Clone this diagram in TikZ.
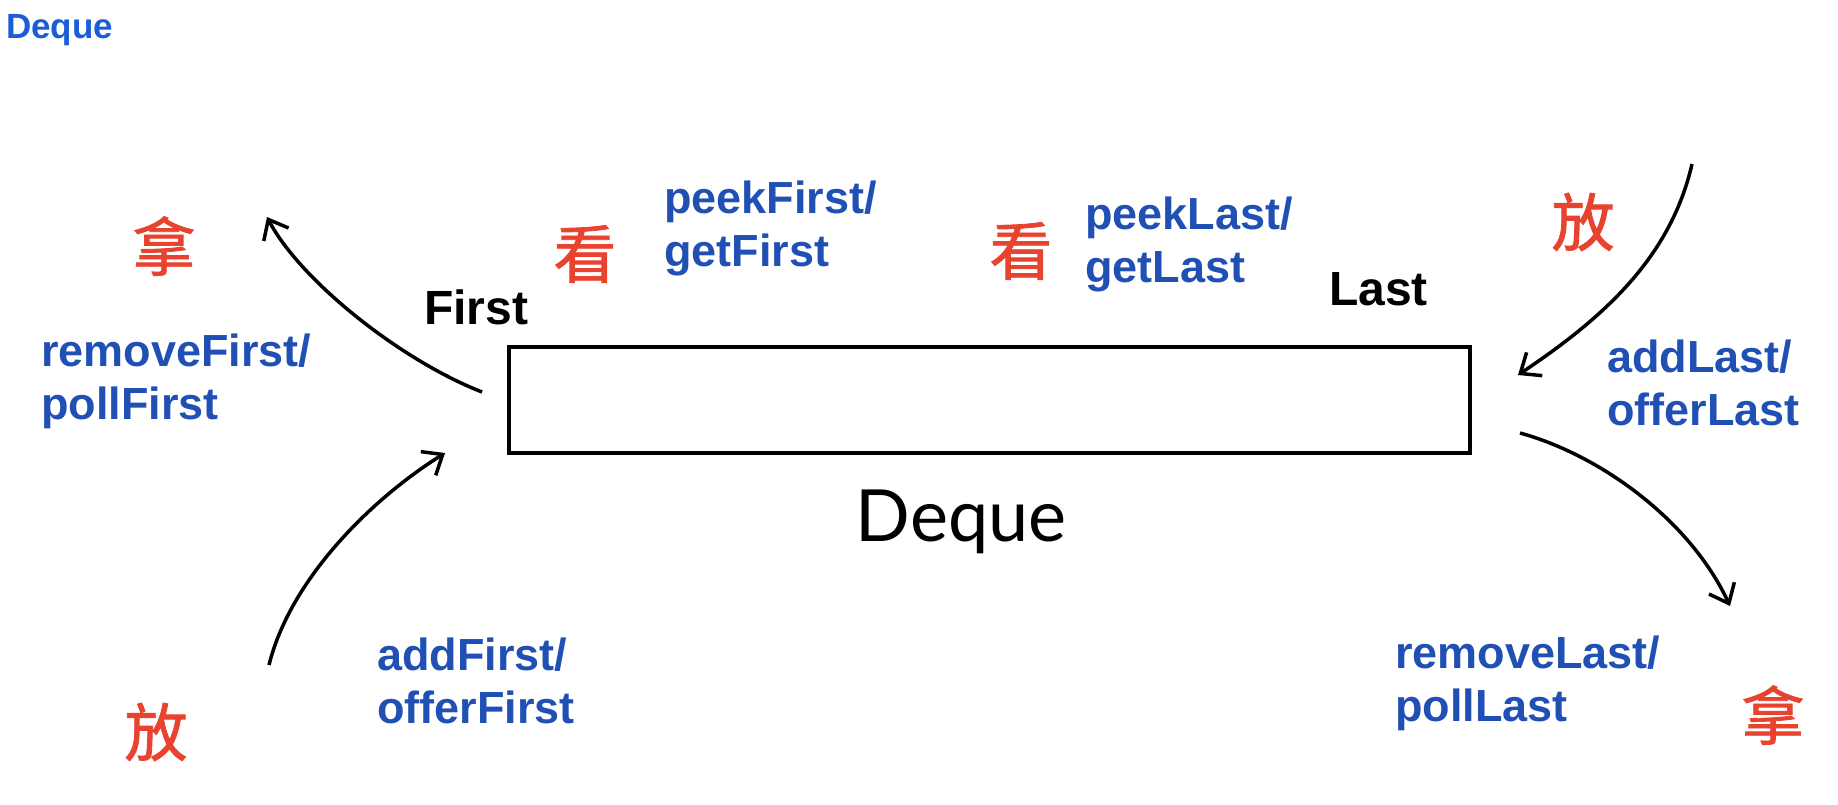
\documentclass[tikz,border=0pt]{standalone}
\usepackage{fontspec}
\setmainfont{Liberation Sans}
\newfontface\cjkm[FakeBold=1.3]{Noto Sans CJK SC}
\newfontfamily\hand{Lato}
\usetikzlibrary{arrows.meta}
\definecolor{lblblue}{HTML}{2150B5}
\definecolor{ttlblue}{HTML}{1A5DD6}
\definecolor{hanred}{HTML}{E8432F}
\tikzset{
  lbl/.style={anchor=north west, inner sep=0pt, align=left, text=lblblue,
    font=\fontsize{45}{53}\selectfont\bfseries},
  han/.style={inner sep=0pt, text=hanred, font=\cjkm\fontsize{63}{63}\selectfont},
  endlbl/.style={anchor=north west, inner sep=0pt, font=\fontsize{48}{50}\selectfont\bfseries},
  flow/.style={line width=3.5pt, -{Straight Barb[length=17pt,width=28pt]}},
}
\begin{document}
\begin{tikzpicture}[x=1pt,y=-1pt]
\useasboundingbox (0,0) rectangle (1838,804);
% title
\node[anchor=north west, inner sep=0pt, text=ttlblue, font=\fontsize{35}{35}\selectfont\bfseries] (title) at (6,14) {Deque};
% deque box
\node[draw, line width=3.5pt, minimum width=961pt, minimum height=106pt, inner sep=0pt, anchor=north west] (box) at (507,345) {};
\node[anchor=north, inner sep=0pt, font=\hand\fontsize{72}{72}\selectfont] (dq) at (961,490) {Deque};
% end labels
\node[endlbl] (first) at (424,290) {First};
\node[endlbl] (last) at (1329,272) {Last};
% chinese characters
\node[han] (takeL) at (164,246) {拿};
\node[han] (lookL) at (585,254) {看};
\node[han] (lookR) at (1021,251) {看};
\node[han] (putR) at (1583,222) {放};
\node[han] (putL) at (156,732) {放};
\node[han] (takeR) at (1773,715) {拿};
% method labels
\node[lbl] (rmF) at (41,334) {removeFirst/\\pollFirst};
\node[lbl] (pkF) at (664,181) {peekFirst/\\getFirst};
\node[lbl] (pkL) at (1085,197) {peekLast/\\getLast};
\node[lbl] (adL) at (1607,340) {addLast/\\offerLast};
\node[lbl] (adF) at (377,638) {addFirst/\\offerFirst};
\node[lbl] (rmL) at (1395,636) {removeLast/\\pollLast};
% arrow end points
\coordinate (tlS) at (482,392);
\coordinate (tlE) at (267,217);
\coordinate (trS) at (1692,164);
\coordinate (trE) at (1518,375);
\coordinate (brS) at (1520,433);
\coordinate (brE) at (1730,606);
\coordinate (blS) at (269,665);
\coordinate (blE) at (445,453);
\draw[flow] (tlS) .. controls (400,360) and (300,280) .. (tlE);
\draw[flow] (trS) .. controls (1670,260) and (1600,320) .. (trE);
\draw[flow] (brS) .. controls (1600,455) and (1690,520) .. (brE);
\draw[flow] (blS) .. controls (290,580) and (370,500) .. (blE);
\end{tikzpicture}
\end{document}
